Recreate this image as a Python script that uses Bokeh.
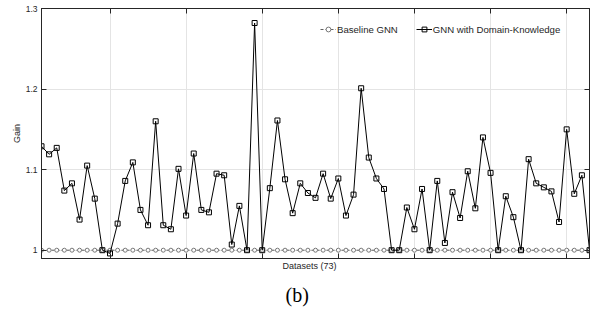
from bokeh.plotting import figure
from bokeh.models import Range1d, FixedTicker, LinearAxis, Legend, LegendItem, Title, ColumnDataSource
from bokeh.embed import file_html
from bokeh.resources import INLINE

# ---- data ----
datasets = list(range(1, 74))
baseline_gnn = [1.0, 1.0, 1.0, 1.0, 1.0, 1.0, 1.0, 1.0, 1.0, 1.0,
                1.0, 1.0, 1.0, 1.0, 1.0, 1.0, 1.0, 1.0, 1.0, 1.0,
                1.0, 1.0, 1.0, 1.0, 1.0, 1.0, 1.0, 1.0, 1.0, 1.0,
                1.0, 1.0, 1.0, 1.0, 1.0, 1.0, 1.0, 1.0, 1.0, 1.0,
                1.0, 1.0, 1.0, 1.0, 1.0, 1.0, 1.0, 1.0, 1.0, 1.0,
                1.0, 1.0, 1.0, 1.0, 1.0, 1.0, 1.0, 1.0, 1.0, 1.0,
                1.0, 1.0, 1.0, 1.0, 1.0, 1.0, 1.0, 1.0, 1.0, 1.0,
                1.0, 1.0, 1.0]
gnn_domain = [1.129, 1.119, 1.127, 1.074, 1.083, 1.038, 1.105, 1.064, 1.000, 0.996,
              1.033, 1.086, 1.109, 1.050, 1.031, 1.160, 1.031, 1.026, 1.101, 1.043,
              1.120, 1.050, 1.047, 1.095, 1.093, 1.007, 1.055, 1.000, 1.282, 1.000,
              1.077, 1.161, 1.088, 1.046, 1.083, 1.071, 1.065, 1.095, 1.064, 1.089,
              1.043, 1.069, 1.201, 1.115, 1.089, 1.076, 1.000, 1.000, 1.053, 1.026,
              1.076, 1.000, 1.086, 1.009, 1.072, 1.040, 1.098, 1.052, 1.140, 1.096,
              1.000, 1.067, 1.041, 1.000, 1.113, 1.083, 1.078, 1.073, 1.035, 1.150,
              1.070, 1.093, 1.000]
series_labels = ["Baseline GNN", "GNN with Domain-Knowledge"]
ytick_values = [1.0, 1.1, 1.2, 1.3]
ytick_labels = ["1", "1.1", "1.2", "1.3"]
xtick_values = [10, 20, 30, 40, 50, 60, 70]
x_label = "Datasets (73)"
y_label = "Gain"
caption = "(b)"

src = ColumnDataSource(data=dict(x=datasets, base=baseline_gnn, gnn=gnn_domain))

AX = "#262626"
FONT = "Liberation Sans"

p = figure(width=594, height=324, output_backend="svg", toolbar_location=None,
           x_range=Range1d(1, 73), y_range=Range1d(0.9897, 1.3),
           min_border_left=41, min_border_right=5, min_border_top=12, min_border_bottom=62)
p.margin = (-4, 0, 0, 0)
p.background_fill_color = "white"
p.border_fill_color = "white"
p.outline_line_color = AX
p.outline_line_width = 1

bottom_ax = p.below[0]
left_ax = p.left[0]

# axes
bottom_ax.ticker = FixedTicker(ticks=xtick_values)
p.xgrid.ticker = FixedTicker(ticks=xtick_values)
left_ax.ticker = FixedTicker(ticks=ytick_values)
p.ygrid.ticker = FixedTicker(ticks=ytick_values)
left_ax.major_label_overrides = dict(zip(ytick_values, ytick_labels))
left_ax.major_label_text_font = FONT
left_ax.major_label_text_font_size = "8.5px"
left_ax.major_label_text_color = AX
left_ax.major_label_standoff = 4
left_ax.axis_label = y_label
left_ax.axis_label_text_font = FONT
left_ax.axis_label_text_font_size = "9px"
left_ax.axis_label_text_font_style = "normal"
left_ax.axis_label_text_color = AX
left_ax.axis_label_standoff = 1

top_ax = LinearAxis(ticker=FixedTicker(ticks=xtick_values))
p.add_layout(top_ax, "above")
right_ax = LinearAxis(ticker=FixedTicker(ticks=ytick_values))
p.add_layout(right_ax, "right")

for ax in (bottom_ax, top_ax, right_ax):
    ax.major_label_text_font_size = "0px"
    ax.major_label_text_alpha = 0
    ax.major_label_text_color = None
    ax.major_label_standoff = 0

for ax in (bottom_ax, left_ax, top_ax, right_ax):
    ax.major_tick_in = 5
    ax.major_tick_out = 0
    ax.minor_tick_line_color = None
    ax.axis_line_color = AX
    ax.major_tick_line_color = AX

p.grid.grid_line_color = "#e4e4e4"
p.grid.grid_line_width = 1

# glyphs
r_bl = p.line("x", "base", source=src, line_color="#606060", line_dash="3 2", line_width=1)
r_bm = p.scatter("x", "base", source=src, marker="circle", size=4, line_color="#777777",
                 fill_color="white", line_width=1)
r_gl = p.line("x", "gnn", source=src, line_color="black", line_width=1)
r_gm = p.scatter("x", "gnn", source=src, marker="square", size=5, line_color="black",
                 fill_color=None, line_width=1)

legend = Legend(items=[LegendItem(label=series_labels[0], renderers=[r_bl, r_bm]),
                       LegendItem(label=series_labels[1], renderers=[r_gl, r_gm])],
                orientation="horizontal", location=(279, 223), padding=0, spacing=18,
                glyph_width=16, glyph_height=12, label_height=12, label_standoff=1,
                label_text_font=FONT, label_text_font_size="9.6px", label_text_color=AX,
                border_line_alpha=0, background_fill_alpha=0)
p.add_layout(legend)

t1 = Title(text=x_label, align="left", text_font=FONT, text_font_size="9px",
           text_font_style="normal", text_color=AX, offset=241, standoff=0)
p.add_layout(t1, "below")
t2 = Title(text=caption, align="left", text_font="Liberation Serif", text_font_size="20px",
           text_font_style="normal", text_color="black", offset=244, standoff=23)
p.add_layout(t2, "below")

open("out.html", "w").write(file_html(p, INLINE))
